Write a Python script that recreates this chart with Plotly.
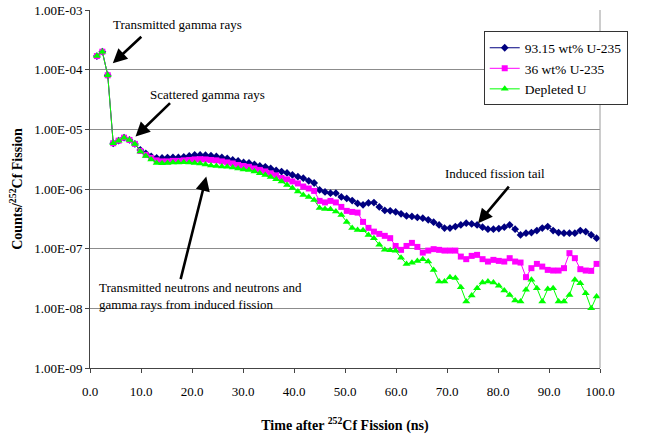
import plotly.graph_objects as go

# ---------------- data ----------------
time_ns = [1.35, 2.42, 3.48, 4.55, 5.61, 6.68, 7.74, 8.81, 9.87, 10.94,
           12.00, 13.07, 14.13, 15.20, 16.26, 17.33, 18.39, 19.46, 20.52, 21.59,
           22.65, 23.72, 24.78, 25.85, 26.91, 27.98, 29.04, 30.11, 31.17, 32.24,
           33.30, 34.37, 35.43, 36.50, 37.56, 38.63, 39.69, 40.76, 41.82, 42.89,
           43.95, 45.02, 46.08, 47.15, 48.21, 49.28, 50.34, 51.41, 52.47, 53.54,
           54.60, 55.67, 56.73, 57.80, 58.86, 59.93, 60.99, 62.06, 63.12, 64.19,
           65.25, 66.32, 67.38, 68.45, 69.51, 70.58, 71.64, 72.71, 73.77, 74.84,
           75.90, 76.97, 78.03, 79.10, 80.16, 81.23, 82.29, 83.36, 84.42, 85.49,
           86.55, 87.62, 88.68, 89.75, 90.81, 91.88, 92.94, 94.01, 95.07, 96.14,
           97.20, 98.27, 99.33]

u235_93 = [1.69e-4, 2.00e-4, 8.06e-5, 5.85e-6, 6.46e-6, 7.26e-6, 6.64e-6, 5.70e-6, 4.52e-6, 3.95e-6,
           3.52e-6, 3.32e-6, 3.32e-6, 3.36e-6, 3.38e-6, 3.38e-6, 3.45e-6, 3.58e-6, 3.73e-6, 3.73e-6,
           3.68e-6, 3.62e-6, 3.52e-6, 3.38e-6, 3.26e-6, 3.07e-6, 2.96e-6, 2.79e-6, 2.73e-6, 2.58e-6,
           2.43e-6, 2.35e-6, 2.21e-6, 2.05e-6, 1.96e-6, 1.86e-6, 1.72e-6, 1.61e-6, 1.52e-6, 1.37e-6,
           1.26e-6, 9.66e-7, 8.94e-7, 8.50e-7, 8.50e-7, 7.37e-7, 6.96e-7, 6.39e-7, 5.74e-7, 5.42e-7,
           5.85e-7, 5.92e-7, 5.01e-7, 4.38e-7, 4.30e-7, 4.13e-7, 3.83e-7, 3.54e-7, 3.47e-7, 3.34e-7,
           3.24e-7, 3.04e-7, 2.78e-7, 2.50e-7, 2.21e-7, 2.21e-7, 2.35e-7, 2.50e-7, 2.67e-7, 2.60e-7,
           2.50e-7, 2.29e-7, 2.12e-7, 2.12e-7, 2.17e-7, 2.29e-7, 2.50e-7, 2.12e-7, 1.70e-7, 1.82e-7,
           1.86e-7, 2.01e-7, 2.21e-7, 2.35e-7, 2.01e-7, 1.86e-7, 1.82e-7, 1.82e-7, 1.82e-7, 2.01e-7,
           1.93e-7, 1.70e-7, 1.50e-7]

u235_36 = [1.69e-4, 2.00e-4, 8.06e-5, 5.85e-6, 6.46e-6, 7.26e-6, 6.64e-6, 5.70e-6, 4.34e-6, 3.73e-6,
           3.32e-6, 3.02e-6, 2.90e-6, 2.90e-6, 2.96e-6, 2.96e-6, 3.02e-6, 3.07e-6, 3.13e-6, 3.16e-6,
           3.13e-6, 3.07e-6, 3.02e-6, 2.90e-6, 2.79e-6, 2.68e-6, 2.53e-6, 2.43e-6, 2.35e-6, 2.21e-6,
           2.09e-6, 1.97e-6, 1.83e-6, 1.69e-6, 1.53e-6, 1.45e-6, 1.34e-6, 1.24e-6, 1.10e-6, 1.02e-6,
           9.29e-7, 6.32e-7, 5.96e-7, 6.32e-7, 5.96e-7, 5.01e-7, 4.30e-7, 4.13e-7, 4.02e-7, 2.81e-7,
           2.23e-7, 1.93e-7, 1.77e-7, 1.64e-7, 1.50e-7, 1.11e-7, 9.55e-8, 1.11e-7, 1.25e-7, 1.07e-7,
           8.60e-8, 9.29e-8, 9.81e-8, 9.55e-8, 9.29e-8, 9.29e-8, 9.29e-8, 7.37e-8, 6.67e-8, 7.57e-8,
           7.87e-8, 6.67e-8, 6.08e-8, 6.49e-8, 6.24e-8, 6.08e-8, 6.93e-8, 6.08e-8, 5.85e-8, 3.33e-8,
           4.71e-8, 5.56e-8, 5.01e-8, 4.41e-8, 4.30e-8, 4.30e-8, 4.71e-8, 8.41e-8, 6.93e-8, 4.53e-8,
           4.30e-8, 4.25e-8, 5.56e-8]

depleted_u = [1.69e-4, 2.00e-4, 8.06e-5, 5.85e-6, 6.46e-6, 7.26e-6, 6.64e-6, 5.70e-6, 4.26e-6, 3.58e-6,
              3.13e-6, 2.73e-6, 2.70e-6, 2.73e-6, 2.77e-6, 2.79e-6, 2.81e-6, 2.79e-6, 2.73e-6, 2.68e-6,
              2.58e-6, 2.48e-6, 2.43e-6, 2.39e-6, 2.35e-6, 2.30e-6, 2.21e-6, 2.13e-6, 2.09e-6, 1.97e-6,
              1.83e-6, 1.72e-6, 1.59e-6, 1.45e-6, 1.33e-6, 1.17e-6, 1.04e-6, 9.12e-7, 7.96e-7, 7.37e-7,
              6.57e-7, 4.82e-7, 4.64e-7, 4.59e-7, 4.18e-7, 3.68e-7, 2.81e-7, 2.23e-7, 2.06e-7, 2.04e-7,
              1.70e-7, 1.49e-7, 1.16e-7, 9.55e-8, 9.44e-8, 9.19e-8, 7.01e-8, 5.56e-8, 5.78e-8, 6.24e-8,
              6.67e-8, 6.08e-8, 4.41e-8, 2.81e-8, 2.81e-8, 3.33e-8, 3.21e-8, 2.26e-8, 1.30e-8, 1.64e-8,
              2.18e-8, 2.70e-8, 2.81e-8, 2.70e-8, 2.38e-8, 1.99e-8, 1.68e-8, 1.35e-8, 1.30e-8, 2.04e-8,
              3.00e-8, 2.18e-8, 1.30e-8, 2.10e-8, 2.18e-8, 1.30e-8, 1.30e-8, 1.68e-8, 3.00e-8, 2.64e-8,
              1.79e-8, 1.00e-8, 1.58e-8]

series_names = ["93.15 wt% U-235", "36 wt% U-235", "Depleted U"]

y_tick_values = [1e-9, 1e-8, 1e-7, 1e-6, 1e-5, 1e-4, 1e-3]
y_tick_labels = ["1.00E-09", "1.00E-08", "1.00E-07", "1.00E-06", "1.00E-05", "1.00E-04", "1.00E-03"]

# ---------------- figure ----------------
FONT = "Liberation Serif"

fig = go.Figure()
fig.add_trace(go.Scatter(x=time_ns, y=u235_93, name=series_names[0], mode="lines+markers",
                         line=dict(color="#000080", width=1),
                         marker=dict(symbol="diamond", size=6, color="#000080")))
fig.add_trace(go.Scatter(x=time_ns, y=u235_36, name=series_names[1], mode="lines+markers",
                         line=dict(color="#FF00FF", width=1),
                         marker=dict(symbol="square", size=6, color="#FF00FF")))
fig.add_trace(go.Scatter(x=time_ns, y=depleted_u, name=series_names[2], mode="lines+markers",
                         line=dict(color="#00FF00", width=1),
                         marker=dict(symbol="triangle-up", size=7, color="#00FF00")))

fig.update_layout(
    width=661, height=436,
    margin=dict(l=90, r=61, t=10, b=68),
    paper_bgcolor="white", plot_bgcolor="white",
    font=dict(family=FONT, size=13, color="black"),
    legend=dict(x=0.772, y=0.94, xanchor="left", yanchor="top",
                bordercolor="#333333", borderwidth=1, bgcolor="white",
                font=dict(family=FONT, size=13.5, color="black")),
    showlegend=True,
)

fig.update_xaxes(range=[0, 100], dtick=10, tick0=0, tickformat=".1f",
                 automargin=False,
                 showgrid=False, zeroline=False,
                 showline=True, linecolor="#444444", linewidth=1,
                 ticks="outside", ticklen=4, tickcolor="#444444",
                 ticklabelstandoff=7,
                 tickfont=dict(family=FONT, size=13),
                 title=dict(text="<b>Time after <sup>252</sup>Cf Fission (ns)</b>",
                            font=dict(family=FONT, size=14), standoff=22))

fig.update_yaxes(type="log", range=[-9, -3],
                 automargin=False,
                 tickvals=y_tick_values, ticktext=y_tick_labels,
                 showgrid=True, gridcolor="#8c8c8c", gridwidth=1,
                 zeroline=False,
                 showline=True, linecolor="#444444", linewidth=1,
                 ticks="outside", ticklen=4, tickcolor="#444444",
                 tickfont=dict(family=FONT, size=13),
                 title=dict(text="<b>Counts/<sup>252</sup>Cf Fission</b>",
                            font=dict(family=FONT, size=14), standoff=8))

# right border of plot area
fig.add_shape(type="line", xref="paper", yref="paper", x0=1, x1=1, y0=0, y1=1,
              line=dict(color="#9a9a9a", width=1))

# annotation texts
texts = [
    dict(x=17.07, y=-3.235, text="Transmitted gamma rays"),
    dict(x=23.03, y=-4.412, text="Scattered gamma rays"),
    dict(x=79.4, y=-5.736, text="Induced fission tail"),
]
for t in texts:
    fig.add_annotation(x=t["x"], y=t["y"], text=t["text"], showarrow=False,
                       font=dict(family=FONT, size=13, color="black"))
fig.add_annotation(x=1.28, y=-7.79, xanchor="left", align="left", showarrow=False,
                   text="Transmitted neutrons and neutrons and<br>gamma rays from induced fission",
                   font=dict(family=FONT, size=13, color="black"))

# arrows (tip at x,y; tail offset in pixels)
arrows = [
    dict(x=4.47, y=-3.893, ax=30, ay=-28),
    dict(x=8.93, y=-5.122, ax=36, ay=-35),
    dict(x=76.1, y=-6.573, ax=32, ay=-38),
    dict(x=22.8, y=-5.792, ax=-26, ay=104),
]
for a in arrows:
    fig.add_annotation(x=a["x"], y=a["y"], ax=a["ax"], ay=a["ay"], text="",
                       showarrow=True, arrowhead=2, arrowsize=1.1, arrowwidth=2.6,
                       arrowcolor="black", standoff=0)

# remove the browser's default 8px body margin so the figure sits at the page origin
fig.write_html("out.html", config={"displayModeBar": False},
               post_script="document.body.style.margin='0';")
